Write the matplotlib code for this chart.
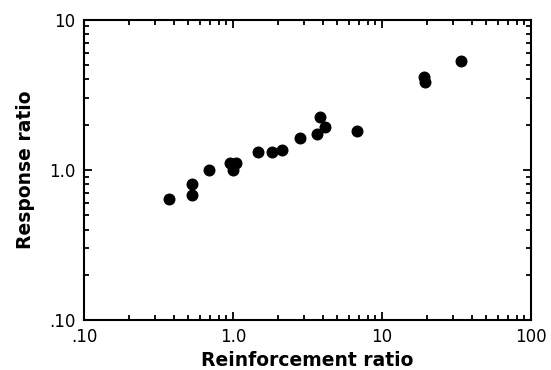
import numpy as np
import matplotlib.pyplot as plt
from matplotlib.ticker import FixedLocator, FixedFormatter, LogLocator, NullFormatter

# Reinforcement ratio vs. response ratio
reinforcement = [0.37, 0.53, 0.53, 0.69, 0.95, 1.05, 1.0, 1.47, 1.82, 2.13,
                 2.82, 3.66, 3.85, 4.16, 6.77, 19.2, 19.3, 33.8]
response = [0.64, 0.81, 0.68, 1.0, 1.11, 1.11, 0.99, 1.32, 1.32, 1.36,
            1.62, 1.72, 2.25, 1.93, 1.82, 4.17, 3.82, 5.3]

x_ticks = [0.1, 1, 10, 100]
x_labels = ['.10', '1.0', '10', '100']
y_ticks = [0.1, 1, 10]
y_labels = ['.10', '1.0', '10']

fig = plt.figure(figsize=(5.51, 3.70), dpi=100)
ax = fig.add_axes([0.1525, 0.135, 0.8112, 0.812])

ax.scatter(reinforcement, response, s=58, color='black', zorder=3)

ax.set_xscale('log')
ax.set_yscale('log')
ax.set_xlim(0.1, 100)
ax.set_ylim(0.1, 10)

ax.xaxis.set_major_locator(FixedLocator(x_ticks))
ax.xaxis.set_major_formatter(FixedFormatter(x_labels))
ax.yaxis.set_major_locator(FixedLocator(y_ticks))
ax.yaxis.set_major_formatter(FixedFormatter(y_labels))
for axis in (ax.xaxis, ax.yaxis):
    axis.set_minor_locator(LogLocator(base=10, subs=np.arange(2, 10)))
    axis.set_minor_formatter(NullFormatter())

ax.tick_params(which='both', direction='in', top=True, right=True,
               width=1.3, labelsize=12, pad=6)
ax.tick_params(which='major', length=6)
ax.tick_params(which='minor', length=3.5)

for sp in ax.spines.values():
    sp.set_linewidth(1.5)

ax.set_xlabel('Reinforcement ratio', fontsize=13.5, fontweight='bold', labelpad=3)
ax.set_ylabel('Response ratio', fontsize=13.5, fontweight='bold', labelpad=10)

fig.savefig('out.png', dpi=100)
